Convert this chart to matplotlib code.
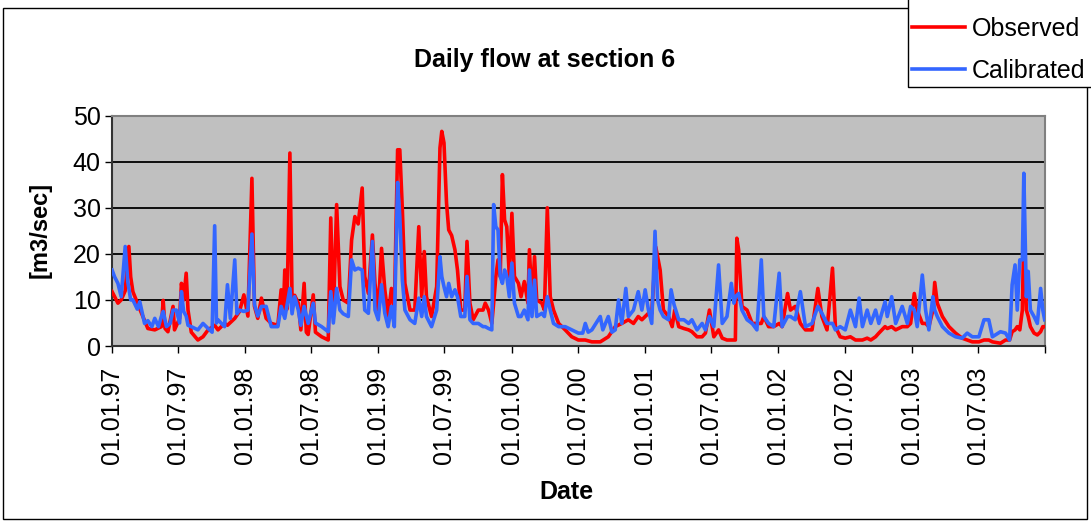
import matplotlib
matplotlib.use("Agg")
import matplotlib.pyplot as plt
from matplotlib.patches import Rectangle
import numpy as np
import pandas as pd

plt.rcParams["font.family"] = ["Liberation Sans", "DejaVu Sans"]

START = np.datetime64("1997-01-01")

# days since 01.01.1997 and flow [m3/sec]
obs_day = [
    1, 17, 26, 37, 47, 52, 58, 77, 90, 99, 118, 136, 141, 146, 154, 168, 172, 186, 191, 197,
    204, 209, 218, 236, 250, 264, 282, 291, 309, 317, 337, 350, 362, 373, 384, 391, 400, 410, 423, 437,
    455, 464, 470, 474, 480, 488, 494, 501, 511, 518, 527, 533, 538, 552, 558, 575, 593, 600, 607, 616,
    625, 634, 648, 657, 666, 675, 686, 693, 703, 714, 721, 730, 739, 748, 757, 766, 774, 783, 789, 796,
    803, 817, 830, 841, 849, 856, 862, 876, 890, 899, 904, 910, 917, 923, 931, 940, 947, 956, 967, 973,
    981, 990, 1004, 1017, 1023, 1032, 1041, 1046, 1052, 1058, 1064, 1070, 1076, 1082, 1089, 1096, 1103, 1114, 1121, 1130,
    1140, 1144, 1151, 1158, 1164, 1178, 1185, 1193, 1201, 1210, 1224, 1242, 1260, 1278, 1297, 1315, 1338, 1360, 1379, 1397,
    1415, 1429, 1442, 1452, 1461, 1470, 1479, 1490, 1502, 1511, 1525, 1535, 1542, 1553, 1567, 1580, 1589, 1603, 1617, 1626,
    1637, 1649, 1662, 1672, 1685, 1697, 1708, 1712, 1717, 1726, 1740, 1754, 1767, 1779, 1786, 1799, 1813, 1828, 1836, 1851,
    1859, 1872, 1886, 1900, 1918, 1934, 1945, 1959, 1974, 1982, 1995, 2009, 2023, 2037, 2047, 2056, 2069, 2079, 2092, 2101,
    2118, 2124, 2136, 2147, 2165, 2179, 2188, 2198, 2206, 2220, 2229, 2238, 2249, 2254, 2261, 2275, 2293, 2311, 2329, 2343,
    2357, 2375, 2389, 2402, 2412, 2434, 2448, 2459, 2466, 2474, 2480, 2487, 2494, 2498, 2505, 2510, 2516, 2526, 2535, 2544,
    2550, 2555,
]
obs_flow = [
    11.8, 9.3, 10.0, 12.0, 21.6, 15.0, 11.8, 8.0, 5.5, 3.8, 3.5, 4.2, 9.9, 3.8, 3.1, 8.6, 3.5, 6.0, 13.6, 10.0,
    15.8, 7.8, 3.0, 1.3, 2.0, 3.5, 4.5, 3.5, 4.9, 4.5, 6.0, 7.5, 11.1, 6.5, 36.4, 8.6, 6.0, 10.4, 6.0, 4.9,
    4.5, 12.2, 7.0, 16.5, 8.0, 41.9, 10.0, 11.0, 9.3, 3.5, 13.6, 3.0, 2.5, 11.1, 3.0, 2.0, 1.3, 27.8, 6.4, 30.7,
    12.9, 10.0, 9.3, 23.0, 28.1, 26.5, 34.3, 15.1, 11.4, 24.1, 13.6, 7.8, 21.2, 12.2, 6.4, 12.5, 7.8, 42.6, 42.6, 29.6,
    13.6, 7.8, 7.8, 25.9, 10.7, 20.5, 10.7, 6.4, 12.9, 43.0, 46.6, 44.1, 31.0, 25.2, 24.0, 20.9, 16.5, 7.8, 7.8, 22.7,
    9.3, 5.7, 7.8, 7.8, 9.3, 7.8, 4.9, 9.3, 15.1, 18.7, 15.1, 37.2, 27.4, 25.9, 15.1, 28.8, 15.1, 13.6, 10.7, 14.0,
    9.3, 20.9, 9.3, 19.4, 10.0, 9.3, 7.8, 30.0, 10.7, 7.8, 4.9, 3.5, 2.0, 1.3, 1.3, 0.9, 0.9, 2.0, 4.2, 4.9,
    5.7, 4.9, 6.4, 5.7, 6.4, 7.1, 7.1, 21.5, 16.5, 7.8, 6.4, 4.2, 7.8, 4.2, 3.8, 3.5, 3.1, 2.0, 2.0, 2.8,
    7.8, 2.0, 3.5, 1.7, 1.3, 1.3, 1.3, 23.4, 20.9, 8.6, 7.8, 4.9, 4.9, 4.9, 6.4, 4.2, 4.2, 4.9, 4.2, 11.4,
    7.8, 8.6, 4.9, 3.5, 3.5, 12.5, 6.4, 3.5, 16.9, 4.2, 2.0, 1.7, 2.0, 1.3, 1.3, 1.3, 1.7, 1.3, 2.0, 2.8,
    4.2, 3.8, 4.2, 3.5, 4.2, 4.2, 4.9, 11.4, 7.8, 4.9, 4.9, 4.2, 7.8, 13.8, 9.3, 6.4, 4.2, 2.8, 1.7, 1.3,
    0.9, 0.9, 1.3, 1.3, 0.9, 0.6, 1.3, 1.3, 3.1, 3.5, 4.2, 3.5, 7.8, 25.0, 7.8, 6.4, 4.2, 2.8, 2.4, 3.1,
    4.2, 4.2,
]

cal_day = [
    1, 8, 17, 26, 37, 44, 52, 58, 70, 77, 90, 99, 110, 118, 128, 136, 141, 150, 160, 168,
    177, 186, 191, 197, 204, 209, 218, 236, 250, 264, 275, 282, 287, 291, 309, 317, 325, 337, 343, 350,
    362, 373, 384, 391, 400, 410, 423, 437, 455, 464, 474, 488, 494, 501, 511, 518, 527, 538, 552, 558,
    575, 593, 600, 607, 616, 625, 634, 648, 657, 666, 675, 686, 693, 703, 714, 721, 730, 739, 748, 757,
    766, 774, 783, 789, 796, 803, 817, 830, 841, 849, 856, 862, 876, 890, 899, 904, 910, 917, 923, 931,
    940, 947, 956, 967, 973, 981, 990, 1004, 1017, 1023, 1032, 1041, 1046, 1052, 1058, 1064, 1070, 1076, 1082, 1089,
    1096, 1103, 1114, 1121, 1130, 1140, 1144, 1151, 1158, 1164, 1178, 1185, 1193, 1201, 1210, 1224, 1242, 1260, 1278, 1290,
    1297, 1305, 1315, 1338, 1345, 1360, 1370, 1379, 1388, 1397, 1408, 1415, 1429, 1442, 1452, 1461, 1470, 1479, 1488, 1495,
    1502, 1511, 1525, 1532, 1540, 1553, 1567, 1580, 1589, 1603, 1617, 1626, 1637, 1649, 1662, 1672, 1685, 1697, 1704, 1708,
    1717, 1726, 1740, 1754, 1767, 1779, 1786, 1799, 1813, 1828, 1836, 1851, 1859, 1872, 1886, 1900, 1918, 1934, 1945, 1959,
    1974, 1982, 1995, 2009, 2023, 2037, 2047, 2056, 2069, 2079, 2092, 2101, 2118, 2124, 2136, 2147, 2165, 2179, 2188, 2198,
    2206, 2220, 2229, 2238, 2249, 2254, 2261, 2275, 2293, 2311, 2329, 2343, 2357, 2375, 2389, 2402, 2412, 2434, 2448, 2459,
    2466, 2474, 2480, 2487, 2494, 2498, 2505, 2510, 2516, 2526, 2535, 2544, 2550, 2555,
]
cal_flow = [
    16.5, 15.0, 13.6, 10.7, 21.6, 14.0, 10.0, 10.0, 8.0, 9.6, 4.9, 5.5, 4.2, 6.0, 4.2, 6.4, 7.5, 4.2, 4.9, 7.8,
    7.8, 5.0, 11.8, 7.5, 6.5, 4.5, 4.2, 3.5, 4.9, 3.8, 3.0, 26.1, 5.0, 5.7, 4.2, 13.3, 6.0, 18.7, 7.0, 7.8,
    7.5, 7.8, 24.3, 9.0, 6.5, 8.6, 8.6, 4.2, 4.2, 8.6, 6.0, 12.5, 7.0, 10.7, 7.8, 4.5, 8.6, 4.9, 9.3, 5.0,
    4.2, 3.1, 11.8, 5.0, 12.5, 7.8, 7.0, 6.4, 18.7, 16.5, 16.9, 16.5, 7.8, 7.1, 22.7, 7.8, 5.7, 13.3, 7.1, 4.2,
    8.6, 4.2, 35.5, 28.1, 14.3, 7.8, 5.7, 4.9, 10.4, 6.4, 10.7, 6.4, 4.2, 7.8, 19.4, 15.1, 12.9, 10.7, 13.6, 10.7,
    12.2, 10.7, 6.4, 6.4, 15.1, 5.7, 4.9, 4.9, 4.2, 4.2, 3.8, 3.5, 30.7, 25.9, 25.2, 15.1, 13.6, 16.5, 15.1, 10.7,
    18.0, 9.3, 6.4, 6.4, 7.8, 5.7, 16.5, 6.4, 14.3, 6.4, 7.1, 6.4, 10.7, 7.8, 4.9, 4.2, 4.2, 3.5, 2.8, 2.8,
    4.9, 3.0, 3.5, 6.4, 3.5, 6.4, 3.0, 3.5, 10.0, 4.9, 12.5, 6.4, 7.8, 11.8, 7.8, 12.2, 7.8, 4.9, 24.9, 10.0,
    7.8, 6.4, 5.7, 12.2, 9.0, 5.7, 5.7, 4.9, 5.7, 3.5, 4.9, 3.5, 6.4, 4.2, 17.6, 4.9, 6.4, 13.6, 9.3, 10.7,
    11.4, 7.8, 5.7, 4.9, 3.5, 18.7, 6.4, 4.9, 4.2, 15.8, 4.2, 6.4, 6.4, 5.7, 11.8, 4.2, 4.9, 8.6, 7.1, 4.9,
    4.9, 3.5, 4.2, 3.5, 7.8, 4.2, 10.4, 4.2, 7.8, 4.9, 7.8, 4.9, 9.6, 6.4, 10.7, 4.9, 8.6, 4.9, 8.6, 7.8,
    4.2, 15.4, 7.8, 3.5, 10.7, 7.8, 6.4, 4.2, 2.8, 2.0, 1.7, 2.8, 2.0, 2.0, 5.7, 5.7, 2.0, 3.1, 2.8, 1.3,
    13.3, 17.6, 7.8, 18.7, 18.7, 37.5, 10.7, 16.2, 7.8, 6.4, 4.9, 12.5, 7.8, 5.7,
]

W, H = 1091, 521
fig = plt.figure(figsize=(W / 100, H / 100), dpi=100)
ax = fig.add_axes([111.7 / W, 1 - 346 / H, (1045 - 111.7) / W, (346 - 115.7) / H])
ax.set_facecolor("#c0c0c0")

obs_dates = START + np.array(obs_day).astype("timedelta64[D]")
cal_dates = START + np.array(cal_day).astype("timedelta64[D]")
ax.plot(obs_dates, obs_flow, color="#ff0000", lw=2.6, label="Observed", zorder=3)
ax.plot(cal_dates, cal_flow, color="#3366ff", lw=2.6, label="Calibrated", zorder=4)

ax.set_ylim(0, 50)
ax.set_yticks(range(0, 51, 10))
ax.set_xlim(np.datetime64("1997-01-01"), np.datetime64("2004-01-01"))
ticks = pd.date_range("1997-01-01", "2004-01-01", freq="6MS")
ax.set_xticks(ticks)
ax.set_xticklabels([t.strftime("%d.%m.%y") for t in ticks[:-1]] + [""], rotation=90)

ax.grid(axis="y", color="black", lw=1.3, zorder=1)
ax.set_axisbelow(True)
for side in ("top", "right"):
    ax.spines[side].set_color("#808080")
    ax.spines[side].set_linewidth(1.5)
for side in ("left", "bottom"):
    ax.spines[side].set_color("#333333")
    ax.spines[side].set_linewidth(1.5)
ax.tick_params(axis="both", direction="out", length=5, width=1, labelsize=18, colors="black")
ax.tick_params(axis="x", pad=10)
ax.tick_params(axis="y", pad=3)

ax.set_xlabel("Date", fontsize=18, fontweight="bold")
ax.xaxis.set_label_coords((566 - 111.7) / (1045 - 111.7), -(480 - 346) / (346 - 115.7))
ax.set_ylabel("[m3/sec]", fontsize=17, fontweight="bold")
ax.yaxis.set_label_coords(-(111.7 - 52) / (1045 - 111.7), (346 - 230) / (346 - 115.7))

fig.text(545 / W, 1 - 60 / H, "Daily flow at section 6", fontsize=18, fontweight="bold",
         ha="center", va="center")

# outer chart border and legend box
fig.patches.append(Rectangle((3 / W, 2 / H), 1084 / W, 511 / H, transform=fig.transFigure,
                             fill=False, edgecolor="black", lw=1))
fig.patches.append(Rectangle((908 / W, 1 - 87 / H), 190 / W, 100 / H, transform=fig.transFigure,
                             facecolor="white", edgecolor="black", lw=1, zorder=5))

leg = fig.legend(loc="upper left", bbox_to_anchor=(912 / W, 1 - 17 / H), fontsize=18, frameon=False,
                 borderaxespad=0, borderpad=0, handlelength=2.1, handletextpad=0.3,
                 labelspacing=0.7)
leg.set_zorder(6)

fig.savefig("out.png", dpi=100)
